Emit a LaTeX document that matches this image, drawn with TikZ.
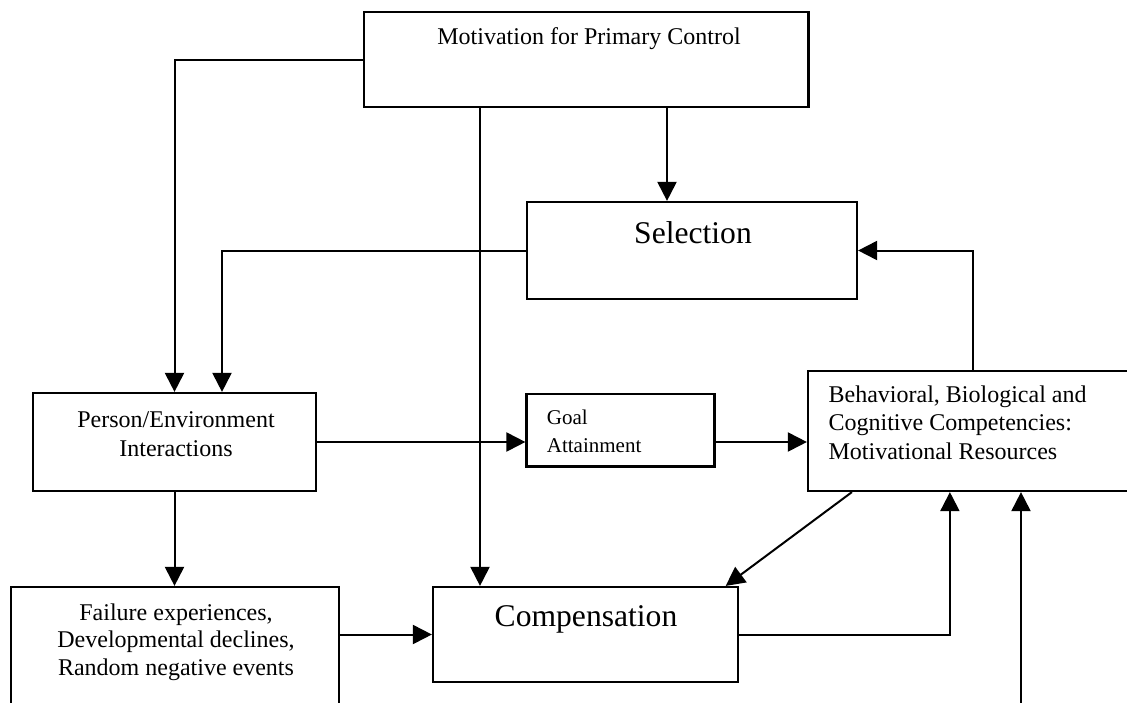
\documentclass[tikz,border=0pt]{standalone}
\usepackage{fontspec}
\setmainfont{Liberation Serif}
\usetikzlibrary{arrows.meta}
\begin{document}
\begin{tikzpicture}[x=1pt,y=-1pt,
  box/.style={draw, line width=2.2pt, inner sep=0pt, rectangle},
  arr/.style={line width=2pt, -{Triangle[length=19pt,width=19pt]}},
  txt/.style={inner sep=0pt, font=\fontsize{24}{28.5}\selectfont},
  bigtxt/.style={inner sep=0pt, font=\fontsize{31.6}{36}\selectfont},
  smalltxt/.style={inner sep=0pt, font=\fontsize{21}{28.2}\selectfont}]
\clip (0,0) rectangle (1127,702);
\fill[white] (0,0) rectangle (1127,702);

% boxes
\node[box, minimum width=444.5pt, minimum height=95pt] (mot) at (586.25,59.5) {};
\node[box, minimum width=330pt, minimum height=97pt] (sel) at (692,250.5) {};
\node[box, minimum width=283pt, minimum height=98pt] (per) at (174.5,442) {};
\node[box, minimum width=188pt, minimum height=72.5pt] (goal) at (620.5,430.25) {};
\node[box, minimum width=342pt, minimum height=120pt] (beh) at (979,431) {};
\node[box, minimum width=328pt, minimum height=143pt] (fail) at (175,658.5) {};
\node[box, minimum width=305pt, minimum height=95pt] (comp) at (585.5,634.5) {};

% texts
\node[txt, anchor=base] (mot-t) at (589,44.3) {Motivation for Primary Control};
\node[bigtxt, anchor=base] (sel-t) at (693,243.5) {Selection};
\node[txt, anchor=base] (per-t) at (176,427.3)
  {\fontsize{24}{28.7}\selectfont\begin{tabular}[t]{c}Person/Environment\\Interactions\end{tabular}};
\node[smalltxt, anchor=base west] (goal-t) at (546.7,424)
  {\begin{tabular}[t]{@{}l@{}}Goal\\Attainment\end{tabular}};
\node[txt, anchor=base west] (beh-t) at (828.4,402.3)
  {\begin{tabular}[t]{@{}l@{}}Behavioral, Biological and\\Cognitive Competencies:\\Motivational Resources\end{tabular}};
\node[txt, anchor=base] (fail-t) at (176,620)
  {\fontsize{24}{27.5}\selectfont\begin{tabular}[t]{c}Failure experiences,\\Developmental declines,\\Random negative events\end{tabular}};
\node[bigtxt, anchor=base] (comp-t) at (586,626.7) {Compensation};

% connection points
\coordinate (sel-in) at ([xshift=-25pt]sel.north);
\coordinate (per-in) at ([xshift=47.5pt]per.north);
\coordinate (comp-in) at ([xshift=-105.5pt]comp.north);
\coordinate (comp-diag) at ([xshift=-13.4pt]comp.north east);
\coordinate (beh-diag) at ([xshift=45pt]beh.south west);
\coordinate (beh-up) at ([xshift=166pt]beh.north west);
\coordinate (beh-in1) at ([xshift=143pt]beh.south west);
\coordinate (beh-in2) at ([xshift=213pt]beh.south west);
\coordinate (ext) at (1021,720);

% connectors
\draw[arr] (mot.west) -| (per.north);
\draw[arr] (mot.south -| sel-in) -- (sel-in);
\draw[arr] (mot.south -| comp-in) -- (comp-in);
\draw[arr] (sel.west) -| (per-in);
\draw[arr] (per.east) -- (per.east -| goal.west);
\draw[arr] (per.east -| goal.east) -- (per.east -| beh.west);
\draw[arr] (beh-up) |- (sel.east);
\draw[arr] (beh-diag) -- (comp-diag);
\draw[arr] (comp.east) -| (beh-in1);
\draw[arr] (ext) -- (ext |- beh-in2);
\draw[arr] (per.south) -- (per.south |- fail.north);
\draw[arr] (comp.west -| fail.east) -- (comp.west);
\end{tikzpicture}
\end{document}
